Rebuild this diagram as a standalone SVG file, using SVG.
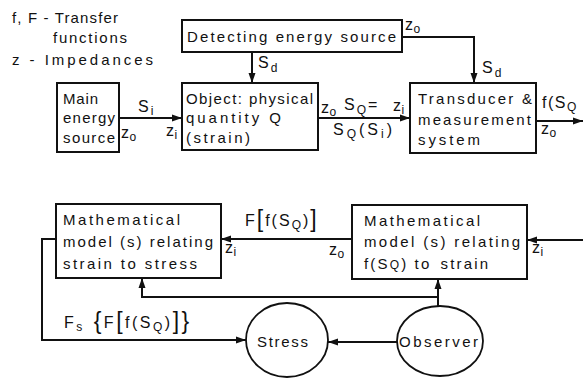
<svg xmlns="http://www.w3.org/2000/svg" width="583" height="378" viewBox="0 0 583 378">
<defs>
<style>
.box{fill:#fff;stroke:#111;stroke-width:2}
.ell{fill:#fff;stroke:#111;stroke-width:1.8}
.ln{fill:none;stroke:#111;stroke-width:2}
text{font-family:"Liberation Sans","DejaVu Sans",Arial,sans-serif;font-size:15px;fill:#111}
.lb{font-size:16px;letter-spacing:2px}
.z{letter-spacing:0.5px}
.s{font-size:12px}
.br{font-size:23px}
</style>
<marker id="ah" markerUnits="userSpaceOnUse" markerWidth="10" markerHeight="8" refX="10" refY="4" orient="auto">
<path d="M0,0.5 L10,4 L0,7.5 z" fill="#111"/>
</marker>
</defs>
<rect width="583" height="378" fill="#fff"/>

<g id="legend">
<text x="12" y="23" textLength="106" lengthAdjust="spacing">f, F - Transfer</text>
<text x="53" y="43" textLength="74" lengthAdjust="spacing">functions</text>
<text x="12" y="65" textLength="141" lengthAdjust="spacing">z -  Impedances</text>
</g>

<g id="connectors">
<path class="ln" d="M252,52 V83" marker-end="url(#ah)"/>
<path class="ln" d="M402,37 H474 V83" marker-end="url(#ah)"/>
<path class="ln" d="M119,118 H182" marker-end="url(#ah)"/>
<path class="ln" d="M318,118 H410" marker-end="url(#ah)"/>
<path class="ln" d="M536,121 H583" marker-end="url(#ah)"/>
<path class="ln" d="M583,240 H527" marker-end="url(#ah)"/>
<path class="ln" d="M352,239 H221" marker-end="url(#ah)"/>
<path class="ln" d="M56,239 H42 V340 H246" marker-end="url(#ah)"/>
<path class="ln" d="M397,342 H328" marker-end="url(#ah)"/>
<path class="ln" d="M438,306 V279" marker-end="url(#ah)"/>
<path class="ln" d="M438,297 H142 V278" marker-end="url(#ah)"/>
<!-- labels -->
<text class="lb z" x="405" y="30">z<tspan class="s" dy="3">o</tspan></text>
<text class="lb" x="258" y="68">S<tspan class="s" dy="4">d</tspan></text>
<text class="lb" x="482" y="73">S<tspan class="s" dy="4">d</tspan></text>
<text class="lb" x="138" y="112">S<tspan class="s" dy="3">i</tspan></text>
<text class="lb z" x="121" y="138">z<tspan class="s" dy="3">o</tspan></text>
<text class="lb z" x="166" y="136">z<tspan class="s" dy="3">i</tspan></text>
<text class="lb z" x="321" y="113">z<tspan class="s" dy="3">o</tspan></text>
<text class="lb" x="344" y="110">S<tspan class="s" dy="4">Q</tspan><tspan dy="-4">=</tspan></text>
<text class="lb z" x="393" y="111">z<tspan class="s" dy="3">i</tspan></text>
<text class="lb" x="333" y="135" style="letter-spacing:3px">S<tspan class="s" dy="3">Q</tspan><tspan dy="-3">(S</tspan><tspan class="s" dy="3">i</tspan><tspan dy="-3">)</tspan></text>
<text class="lb" x="542" y="108" style="letter-spacing:1.5px">f(S<tspan class="s" dy="3">Q</tspan></text>
<text class="lb z" x="541" y="134">z<tspan class="s" dy="3">o</tspan></text>
<text class="lb" x="245" y="226"><tspan>F</tspan><tspan class="br" dy="1">[</tspan><tspan dy="-1">f(S</tspan><tspan class="s" dy="3">Q</tspan><tspan dy="-3">)</tspan><tspan class="br" dy="1">]</tspan></text>
<text class="lb z" x="225" y="253">z<tspan class="s" dy="3">i</tspan></text>
<text class="lb z" x="329" y="255">z<tspan class="s" dy="3">o</tspan></text>
<text class="lb z" x="532" y="253">z<tspan class="s" dy="3">i</tspan></text>
<text class="lb" x="64" y="328" style="letter-spacing:2.5px">F<tspan class="s" dy="3">s</tspan><tspan class="br" dy="-2"> {</tspan><tspan dy="-1">F</tspan><tspan class="br" dy="1">[</tspan><tspan dy="-1">f(S</tspan><tspan class="s" dy="3">Q</tspan><tspan dy="-3">)</tspan><tspan class="br" dy="1">]}</tspan></text>
</g>

<g id="detect">
<rect class="box" x="182" y="20" width="220" height="32"/>
<text x="187" y="42" textLength="209" lengthAdjust="spacing">Detecting energy source</text>
</g>

<g id="main-source">
<rect class="box" x="57" y="83" width="62" height="69"/>
<text x="63" y="104" textLength="35" lengthAdjust="spacing">Main</text>
<text x="63" y="123" textLength="52" lengthAdjust="spacing">energy</text>
<text x="63" y="143" textLength="52" lengthAdjust="spacing">source</text>
</g>

<g id="object">
<rect class="box" x="182" y="83" width="136" height="67"/>
<text x="186" y="104" textLength="127" lengthAdjust="spacing">Object: physical</text>
<text x="186" y="123" textLength="95" lengthAdjust="spacing">quantity  Q</text>
<text x="186" y="143" textLength="64" lengthAdjust="spacing">(strain)</text>
</g>

<g id="transducer">
<rect class="box" x="410" y="83" width="126" height="70"/>
<text x="418" y="104" textLength="114" lengthAdjust="spacing">Transducer &amp;</text>
<text x="418" y="125" textLength="113" lengthAdjust="spacing">measurement</text>
<text x="418" y="145" textLength="62" lengthAdjust="spacing">system</text>
</g>

<g id="model-stress">
<rect class="box" x="56" y="204" width="165" height="74"/>
<text x="63" y="225" textLength="117" lengthAdjust="spacing">Mathematical</text>
<text x="63" y="247" textLength="150" lengthAdjust="spacing">model (s) relating</text>
<text x="63" y="269" textLength="134" lengthAdjust="spacing">strain to stress</text>
</g>

<g id="model-strain">
<rect class="box" x="352" y="205" width="175" height="74"/>
<text x="364" y="226" textLength="116" lengthAdjust="spacing">Mathematical</text>
<text x="364" y="247" textLength="156" lengthAdjust="spacing">model (s) relating</text>
<text x="364" y="269" style="letter-spacing:2.2px">f(S<tspan class="s">Q</tspan>)<tspan dx="6">to</tspan><tspan dx="9">strain</tspan></text>
</g>

<g id="stress">
<ellipse class="ell" cx="287" cy="340" rx="41" ry="37"/>
<text x="257" y="347" textLength="51" lengthAdjust="spacing">Stress</text>
</g>

<g id="observer">
<ellipse class="ell" cx="440" cy="341" rx="43" ry="35"/>
<text x="399" y="347" textLength="79" lengthAdjust="spacing">Observer</text>
</g>
</svg>
